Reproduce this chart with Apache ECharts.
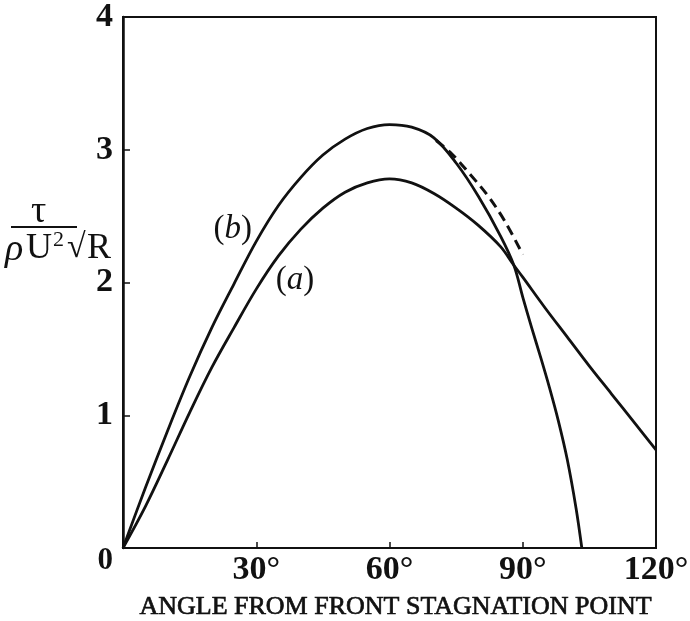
<!DOCTYPE html>
<html>
<head>
<meta charset="utf-8">
<script src="https://cdn.jsdelivr.net/npm/echarts@6/dist/echarts.min.js"></script>
<style>
  html, body { margin: 0; padding: 0; background: #fff; }
  #chart { width: 690px; height: 621px; }
</style>
</head>
<body>
<div id="chart"></div>
<script>
// Skin friction on a circular cylinder against angle from the front stagnation point
const curveBAngle = [0, 5, 10, 15, 20, 25, 30, 35, 40, 45, 50, 55, 60, 65, 70, 75, 80, 85, 88, 90, 92, 94, 96, 98, 100, 102, 103.3];
const curveBValue = [0, 0.45, 0.88, 1.29, 1.66, 1.99, 2.31, 2.58, 2.79, 2.96, 3.08, 3.16, 3.19, 3.17, 3.09, 2.90, 2.65, 2.35, 2.13, 1.89, 1.66, 1.44, 1.21, 0.96, 0.67, 0.30, 0];

const curveAAngle = [0, 5, 10, 15, 20, 25, 30, 35, 40, 45, 50, 55, 60, 65, 70, 75, 80, 85, 88, 90, 95, 100, 105, 110, 115, 120];
const curveAValue = [0, 0.31, 0.66, 1.02, 1.36, 1.66, 1.95, 2.20, 2.40, 2.56, 2.68, 2.75, 2.78, 2.75, 2.67, 2.56, 2.43, 2.27, 2.13, 2.04, 1.81, 1.59, 1.37, 1.16, 0.95, 0.74];

const dashedAngle = [70.5, 74, 78, 82, 86, 90];
const dashedValue = [3.07, 2.97, 2.82, 2.66, 2.46, 2.21];

const xTicks = [0, 30, 60, 90, 120];
const yTicks = [0, 1, 2, 3, 4];

// curve labels, anchored in data space
const labelB = { letter: 'b', angle: 24.7, value: 2.40 };
const labelA = { letter: 'a', angle: 38.7, value: 2.02 };

const pairs = (xs, ys) => xs.map((x, i) => [x, ys[i]]);

const serif = '"Liberation Serif", "DejaVu Serif", serif';
const ink = '#111';

const chart = echarts.init(document.getElementById('chart'));

const curveLabel = (lab) => ({
  symbol: 'circle',
  symbolSize: 0,
  silent: true,
  data: [{
    coord: [lab.angle, lab.value],
    label: {
      show: true,
      position: 'inside',
      formatter: '{p|(}{i|' + lab.letter + '}{p|)}',
      rich: {
        p: { fontFamily: serif, fontSize: 33, color: ink },
        i: { fontFamily: serif, fontSize: 33, fontStyle: 'italic', color: ink }
      }
    }
  }]
});

const tickFont = { fontFamily: serif, fontSize: 34, fontWeight: 'bold', color: ink };

chart.setOption({
  animation: false,
  backgroundColor: '#fff',
  grid: {
    left: 123, right: 34, top: 17, bottom: 73,
    outerBoundsMode: 'none',
    containLabel: false,
    show: true, borderColor: ink, borderWidth: 2, backgroundColor: 'transparent'
  },
  xAxis: {
    type: 'value',
    min: xTicks[0], max: xTicks[xTicks.length - 1], interval: 30,
    name: 'ANGLE FROM FRONT STAGNATION POINT',
    nameLocation: 'middle',
    nameGap: 46,
    nameTextStyle: {
      fontFamily: serif, fontSize: 26, color: ink, padding: [0, 0, 0, 12],
      textBorderColor: ink, textBorderWidth: 0.7
    },
    axisLine: { show: true, lineStyle: { color: ink, width: 2 } },
    axisTick: { show: true, inside: true, length: 6, lineStyle: { color: ink, width: 1.5 } },
    axisLabel: Object.assign({
      margin: 5,
      formatter: (v) => v === 0 ? '' : v + '°'
    }, tickFont),
    splitLine: { show: false }
  },
  yAxis: {
    type: 'value',
    min: yTicks[0], max: yTicks[yTicks.length - 1], interval: 1,
    axisLine: { show: true, lineStyle: { color: ink, width: 2.5 } },
    axisTick: { show: true, inside: true, length: 7, lineStyle: { color: ink, width: 1.5 } },
    axisLabel: Object.assign({
      margin: 10,
      formatter: (v) => v === 0 ? '{z|0}' : String(v),
      rich: { z: { fontFamily: serif, fontSize: 31, fontWeight: 'bold', color: ink, padding: [26, 0, 0, 0] } }
    }, tickFont),
    splitLine: { show: false }
  },
  graphic: [
    {
      // axis title: τ over ρU², followed by √R
      type: 'group', left: 5, top: 193,
      children: [
        { type: 'text', x: 28, y: 0, style: { text: 'τ', font: '38px ' + serif, fill: ink } },
        { type: 'line', shape: { x1: 8, y1: 34, x2: 74, y2: 34 }, style: { stroke: ink, lineWidth: 2 } },
        { type: 'text', x: 2, y: 38, style: { text: 'ρ', font: 'italic 38px ' + serif, fill: ink } },
        { type: 'text', x: 23, y: 38, style: { text: 'U', font: '36px ' + serif, fill: ink } },
        { type: 'text', x: 50, y: 36, style: { text: '2', font: '22px ' + serif, fill: ink } },
        { type: 'text', x: 64, y: 38, style: { text: '√', font: '34px ' + serif, fill: ink } },
        { type: 'text', x: 84, y: 38, style: { text: 'R', font: '36px ' + serif, fill: ink } }
      ]
    }
  ],
  series: [
    {
      name: 'b', type: 'line', data: pairs(curveBAngle, curveBValue),
      smooth: 0.35, symbol: 'none',
      lineStyle: { color: ink, width: 2.8 },
      markPoint: curveLabel(labelB)
    },
    {
      name: 'a', type: 'line', data: pairs(curveAAngle, curveAValue),
      smooth: 0.35, symbol: 'none',
      lineStyle: { color: ink, width: 2.8 },
      markPoint: curveLabel(labelA)
    },
    {
      name: 'dashed', type: 'line', data: pairs(dashedAngle, dashedValue),
      smooth: 0.35, symbol: 'none',
      lineStyle: { color: ink, width: 3, type: [10, 6] }
    }
  ]
});
</script>
</body>
</html>
